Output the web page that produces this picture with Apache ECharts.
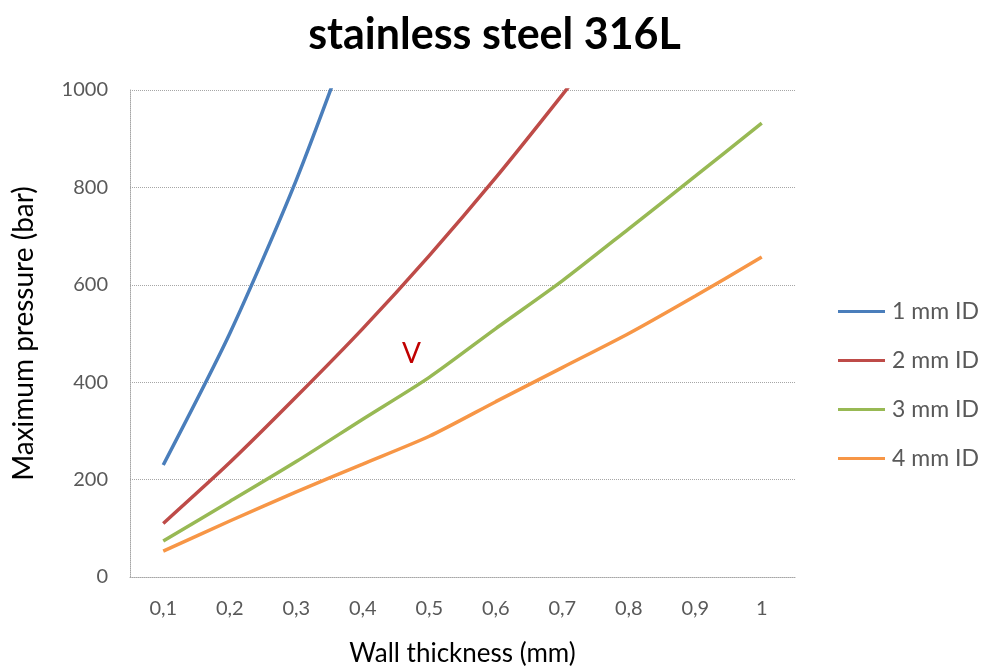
<!DOCTYPE html>
<html>
<head>
<meta charset="utf-8">
<script src="https://cdn.jsdelivr.net/npm/echarts@6/dist/echarts.min.js"></script>
<style>
  html, body { margin: 0; padding: 0; background: #fff; }
  #chart { width: 989px; height: 671px; }
</style>
</head>
<body>
<div id="chart"></div>
<script>
// Wall thickness categories (mm)
const thickness = ['0,1', '0,2', '0,3', '0,4', '0,5', '0,6', '0,7', '0,8', '0,9', '1'];

// Maximum pressure (bar) per inner diameter
const id1mm = [230, 500, 815, 1180, null, null, null, null, null, null];
const id2mm = [110, 235, 370, 510, 660, 820, 990, 1165, null, null];
const id3mm = [74, 155, 237, 324, 410, 510, 608, 715, 823, 932];
const id4mm = [53, 115, 175, 232, 289, 360, 430, 500, 577, 657];

const seriesNames = ['1 mm ID', '2 mm ID', '3 mm ID', '4 mm ID'];
const seriesColors = ['#4a7ebb', '#be4b48', '#98b954', '#f79646'];
const seriesData = [id1mm, id2mm, id3mm, id4mm];

const yTicks = { min: 0, max: 1000, interval: 200 };

const fontFamily = 'Lato, "Open Sans", sans-serif';
const textGray = '#595959';

const chart = echarts.init(document.getElementById('chart'), null, { renderer: 'canvas' });

chart.setOption({
  animation: false,
  backgroundColor: '#ffffff',
  title: {
    text: 'stainless steel 316L',
    left: 'center',
    top: 9,
    textStyle: { fontFamily, fontWeight: 'bold', fontSize: 43, color: '#000' }
  },
  legend: {
    orient: 'vertical',
    left: 833,
    top: 293,
    itemGap: 22,
    itemWidth: 47,
    itemHeight: 3,
    icon: 'rect',
    textStyle: { fontFamily, fontSize: 23, color: textGray, padding: [0, 0, 0, 2], lineHeight: 27 },
    data: seriesNames
  },
  grid: { left: 130, right: 194, top: 90, bottom: 94, containLabel: false, outerBoundsMode: 'none' },
  xAxis: {
    type: 'category',
    data: thickness,
    boundaryGap: true,
    name: 'Wall thickness (mm)',
    nameLocation: 'middle',
    nameGap: 64,
    nameTextStyle: { fontFamily, fontSize: 26, color: '#000' },
    axisLine: { lineStyle: { color: '#a6a6a6', type: 'dotted', width: 1 } },
    axisTick: { show: false },
    axisLabel: { fontFamily, fontSize: 20, color: textGray, margin: 22 }
  },
  yAxis: {
    type: 'value',
    min: yTicks.min,
    max: yTicks.max,
    interval: yTicks.interval,
    name: 'Maximum pressure (bar)',
    nameLocation: 'middle',
    nameGap: 92,
    nameTextStyle: { fontFamily, fontSize: 28, color: '#000' },
    axisLine: { show: true, lineStyle: { color: '#a6a6a6', type: 'dotted', width: 1 } },
    axisTick: { show: false },
    axisLabel: { fontFamily, fontSize: 20, color: textGray, margin: 22, formatter: v => String(v) },
    splitLine: { lineStyle: { color: '#a6a6a6', type: 'dotted', width: 1 } }
  },
  graphic: [{
    type: 'text',
    left: 402,
    top: 340,
    style: { text: 'V', font: '28px ' + fontFamily, fill: '#c00000' }
  }],
  series: seriesData.map((d, i) => ({
    name: seriesNames[i],
    type: 'line',
    data: d,
    symbol: 'none',
    clip: true,
    connectNulls: false,
    smooth: 0.25,
    color: seriesColors[i],
    lineStyle: { width: 3.5, color: seriesColors[i] }
  }))
});
</script>
</body>
</html>
